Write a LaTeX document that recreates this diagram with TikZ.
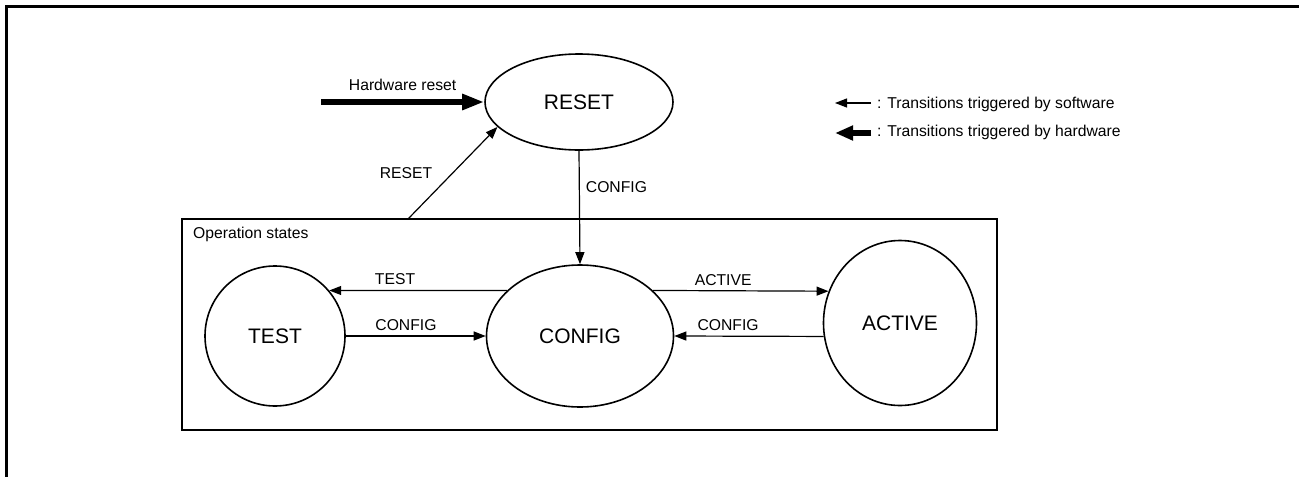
\documentclass[tikz,border=0pt]{standalone}
\usepackage{fontspec}
\setmainfont{Liberation Sans}
\usetikzlibrary{positioning,arrows.meta,shapes.geometric,calc}

\begin{document}
\begin{tikzpicture}[
  x=1pt, y=-1pt,
  state/.style={draw, ellipse, line width=1.6pt, inner sep=0pt, font=\fontsize{21}{25}\selectfont},
  lbl/.style={font=\fontsize{15.7}{18}\selectfont, inner sep=2pt},
  swarrow/.style={-{Triangle[length=12pt,width=9pt]}, line width=1.2pt},
  hwarrow/.style={-{Triangle[length=22pt,width=15pt]}, line width=5.5pt},
  opsbox/.style={draw, line width=2.8pt, inner sep=0pt, minimum width=815pt, minimum height=211pt}
]
\useasboundingbox (0,0) rectangle (1299,477);

% outer frame
\draw[line width=3pt] (1299,6) -- (6,6) -- (6,477);

% states
\node[state, minimum width=188pt, minimum height=96pt] (reset) at (579,102) {RESET};
\node[opsbox] (ops) at (589.5,324.5) {};
\node[lbl, anchor=base west] (opslabel) at (191,238) {Operation states};
\node[state, circle, minimum size=140pt] (test) at (275,336) {TEST};
\node[state, minimum width=187pt, minimum height=142pt] (config) at (580,336) {CONFIG};
\node[state, minimum width=153pt, minimum height=165pt] (active) at (900,323) {ACTIVE};

% transitions
\coordinate (hwstart) at (321,102);
\coordinate (rstart) at (408,219);
\draw[hwarrow] (hwstart) -- node[lbl, above=7pt] {Hardware reset} (reset.west);
\draw[swarrow] (rstart) -- node[lbl, left=18pt] {RESET} (reset.197);
\draw[swarrow] (reset.south) -- node[lbl, pos=0.32, right=4pt] {CONFIG} (config.north);
\draw[swarrow] (config.148) -- node[lbl, pos=0.63, above=3pt] {TEST} (test.40);
\draw[swarrow] (test.east) -- node[lbl, pos=0.43, above=3pt] {CONFIG} (config.west);
\draw[swarrow] (config.32) -- node[lbl, pos=0.40, above=3pt] {ACTIVE} (active.156);
\draw[swarrow] (active.190) -- node[lbl, pos=0.64, above=3pt] {CONFIG} (config.east);

% legend
\node[lbl, anchor=base west] (swnote) at (875,108) {: Transitions triggered by software};
\node[lbl, anchor=base west] (hwnote) at (875,136) {: Transitions triggered by hardware};
\coordinate (swtail) at (871,103);
\coordinate (swtip) at (835,103);
\coordinate (hwtail) at (871,133);
\coordinate (hwtip) at (835,133);
\draw[swarrow] (swtail) -- (swtip);
\draw[line width=6pt, -{Triangle[length=18pt,width=14pt]}] (hwtail) -- (hwtip);

\end{tikzpicture}
\end{document}
